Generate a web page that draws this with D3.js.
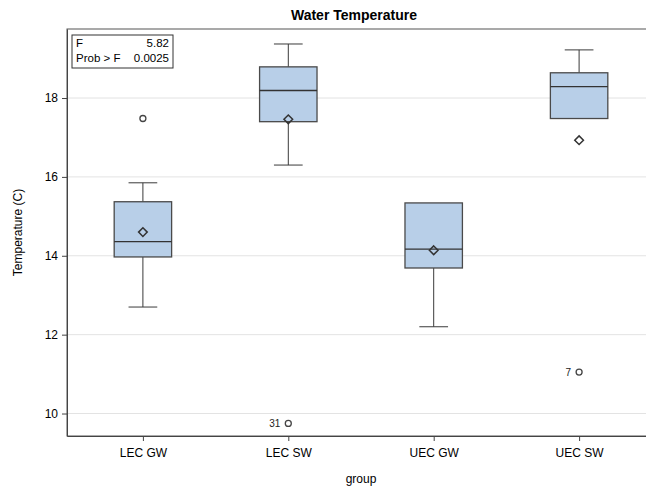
<!DOCTYPE html>
<html>
<head>
<meta charset="utf-8">
<script src="https://cdn.jsdelivr.net/npm/d3@7"></script>
<style>
  html, body { margin: 0; padding: 0; background: #fff; }
  svg { display: block; font-family: "Liberation Sans", Arial, sans-serif; }
</style>
</head>
<body>
<div id="chart"></div>
<script>
const categories = ["LEC GW", "LEC SW", "UEC GW", "UEC SW"];
const whiskerLow  = [12.70, 16.30, 12.20, 17.48];
const q1          = [13.97, 17.40, 13.69, 17.48];
const median      = [14.36, 18.19, 14.17, 18.29];
const q3          = [15.37, 18.79, 15.34, 18.64];
const whiskerHigh = [15.85, 19.37, 15.34, 19.22];
const means       = [14.60, 17.46, 14.14, 16.93];
const outlierGroup = ["LEC GW", "LEC SW", "UEC SW"];
const outlierValue = [17.48, 9.75, 11.05];
const outlierLabel = ["", "31", "7"];
const yTicks = [10, 12, 14, 16, 18];
const statLabels = ["F", "Prob > F"];
const statValues = ["5.82", "0.0025"];

(function () {
const W = 646, H = 489;
const pL = 67, pR = 655, pT = 29, pB = 436;
const FONT = "Liberation Sans, Arial, sans-serif";

const svg = d3.select("#chart").append("svg").attr("width", W).attr("height", H);

const x = d3.scalePoint().domain(categories).range([pL, pR]).padding(0.522);
const y = d3.scaleLinear().domain([9.43, 19.75]).range([pB, pT]);
const step = x.step();
const boxW = step * 0.395;
const capW = boxW / 2;

// gridlines
svg.append("g").selectAll("line").data(yTicks).join("line")
  .attr("x1", pL).attr("x2", pR)
  .attr("y1", d => y(d)).attr("y2", d => y(d))
  .attr("stroke", "#e3e3e3").attr("stroke-width", 1);

// boxes
const data = categories.map((c, i) => ({
  c, lo: whiskerLow[i], q1: q1[i], med: median[i], q3: q3[i], hi: whiskerHigh[i], mean: means[i]
}));
const g = svg.append("g");
data.forEach(d => {
  const cx = x(d.c);
  const col = "#3a3a3a";
  if (d.hi > d.q3) {
    g.append("line").attr("x1", cx).attr("x2", cx).attr("y1", y(d.q3)).attr("y2", y(d.hi)).attr("stroke", col);
    g.append("line").attr("x1", cx - capW/2).attr("x2", cx + capW/2).attr("y1", y(d.hi)).attr("y2", y(d.hi)).attr("stroke", col);
  }
  if (d.lo < d.q1) {
    g.append("line").attr("x1", cx).attr("x2", cx).attr("y1", y(d.q1)).attr("y2", y(d.lo)).attr("stroke", col);
    g.append("line").attr("x1", cx - capW/2).attr("x2", cx + capW/2).attr("y1", y(d.lo)).attr("y2", y(d.lo)).attr("stroke", col);
  }
  g.append("rect").attr("x", cx - boxW/2).attr("y", y(d.q3))
    .attr("width", boxW).attr("height", y(d.q1) - y(d.q3))
    .attr("fill", "#b8cfe8").attr("stroke", "#4a4a4a").attr("stroke-width", 1.3);
  g.append("line").attr("x1", cx - boxW/2).attr("x2", cx + boxW/2)
    .attr("y1", y(d.med)).attr("y2", y(d.med)).attr("stroke", "#333").attr("stroke-width", 1.3);
  g.append("path")
    .attr("d", d3.symbol().type(d3.symbolDiamond2).size(48)())
    .attr("transform", `translate(${cx},${y(d.mean)})`)
    .attr("fill", "none").attr("stroke", "#333").attr("stroke-width", 1.5);
});

// outliers
outlierGroup.forEach((c, i) => {
  const cx = x(c), cy = y(outlierValue[i]);
  svg.append("circle").attr("cx", cx).attr("cy", cy).attr("r", 3)
    .attr("fill", "none").attr("stroke", "#444").attr("stroke-width", 1.3);
  if (outlierLabel[i]) {
    svg.append("text").attr("x", cx - 8).attr("y", cy + 4)
      .attr("text-anchor", "end").attr("font-size", 10).attr("fill", "#222")
      .attr("font-family", FONT).text(outlierLabel[i]);
  }
});

// frame
svg.append("rect").attr("x", pL).attr("y", pT).attr("width", pR - pL).attr("height", pB - pT)
  .attr("fill", "none").attr("stroke", "#555").attr("stroke-width", 1);

// axes
const yAxis = d3.axisLeft(y).tickValues(yTicks).tickSize(5).tickSizeOuter(0).tickPadding(4).tickFormat(d3.format("d"));
const ya = svg.append("g").attr("transform", `translate(${pL},0)`).call(yAxis);
ya.select(".domain").attr("stroke", "#444");
ya.selectAll(".tick line").attr("stroke", "#444");
ya.selectAll("text").attr("font-size", 12).attr("fill", "#000").attr("font-family", FONT);

const xAxis = d3.axisBottom(x).tickSize(5).tickSizeOuter(0).tickPadding(7);
const xa = svg.append("g").attr("transform", `translate(0,${pB})`).call(xAxis);
xa.select(".domain").attr("stroke", "#444");
xa.selectAll(".tick line").attr("stroke", "#444");
xa.selectAll("text").attr("font-size", 12).attr("fill", "#000").attr("font-family", FONT);

// labels
svg.append("text").attr("x", 354).attr("y", 20).attr("text-anchor", "middle")
  .attr("font-family", FONT).attr("font-size", 14).attr("font-weight", "bold").attr("fill", "#000").text("Water Temperature");
svg.append("text").attr("x", (pL + pR) / 2).attr("y", 483).attr("text-anchor", "middle")
  .attr("font-family", FONT).attr("font-size", 12).attr("fill", "#000").text("group");
svg.append("text").attr("transform", `translate(22,${(pT + pB) / 2}) rotate(-90)`)
  .attr("text-anchor", "middle").attr("font-family", FONT).attr("font-size", 12).attr("fill", "#000").text("Temperature (C)");

// stats inset
const inset = svg.append("g");
inset.append("rect").attr("x", 72).attr("y", 35).attr("width", 101).attr("height", 33)
  .attr("fill", "#fff").attr("stroke", "#333").attr("stroke-width", 1);
statLabels.forEach((s, i) => {
  inset.append("text").attr("x", 76).attr("y", 47 + i * 15).attr("font-family", FONT)
    .attr("font-size", 11.5).attr("fill", "#000").text(s);
  inset.append("text").attr("x", 169).attr("y", 47 + i * 15).attr("text-anchor", "end").attr("font-family", FONT)
    .attr("font-size", 11.5).attr("fill", "#000").text(statValues[i]);
});
})();
</script>
</body>
</html>
